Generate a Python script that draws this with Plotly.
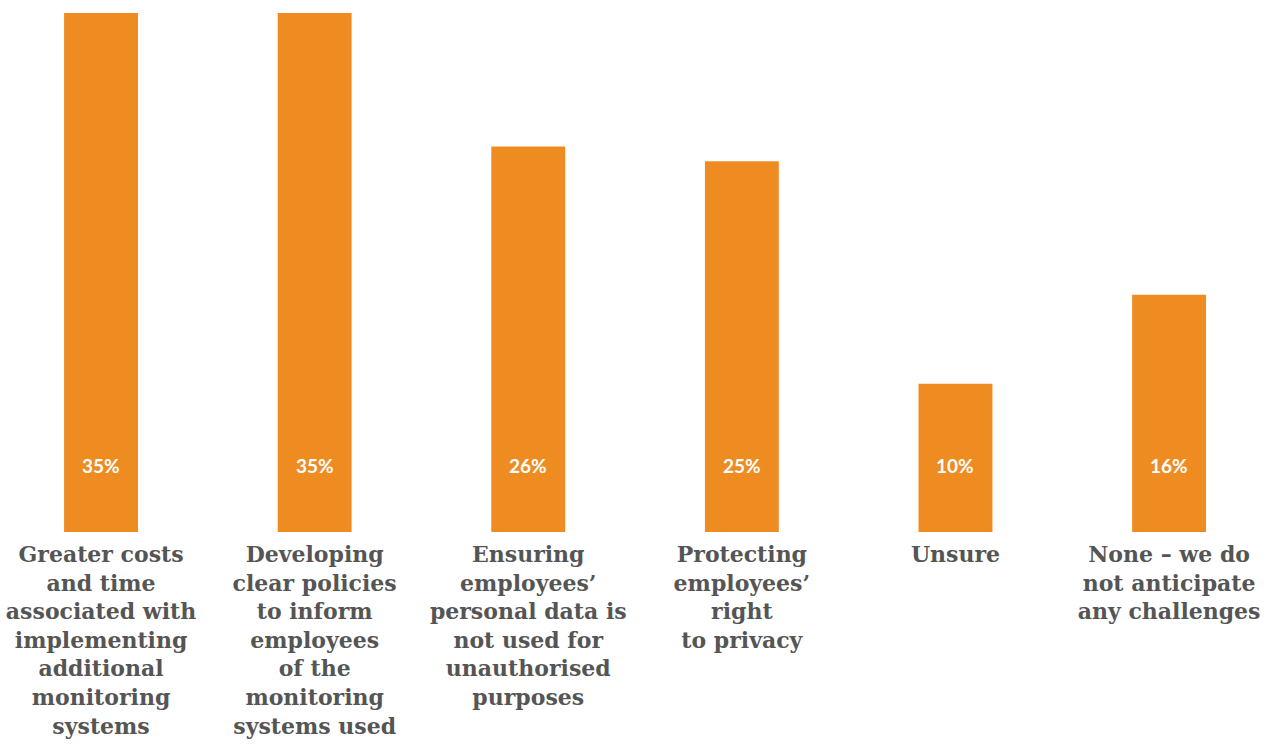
import plotly.graph_objects as go

categories = [
    "Greater costs<br>and time<br>associated with<br>implementing<br>additional<br>monitoring<br>systems",
    "Developing<br>clear policies<br>to inform<br>employees<br>of the<br>monitoring<br>systems used",
    "Ensuring<br>employees’<br>personal data is<br>not used for<br>unauthorised<br>purposes",
    "Protecting<br>employees’<br>right<br>to privacy",
    "Unsure",
    "None – we do<br>not anticipate<br>any challenges",
]
values = [35, 35, 26, 25, 10, 16]
value_labels = ["35%", "35%", "26%", "25%", "10%", "16%"]

ORANGE = "#EE8C22"
GREY = "#555555"

fig = go.Figure(
    go.Bar(
        x=list(range(len(categories))),
        y=values,
        marker=dict(color=ORANGE, line=dict(width=0)),
        width=0.346,
        hoverinfo="skip",
    )
)

# value labels sit at a fixed height near the base of each bar
for i, lab in enumerate(value_labels):
    fig.add_annotation(
        x=i, y=4.5, text=lab, showarrow=False, yanchor="middle",
        font=dict(family="Lato", size=19, color="white", weight="bold"),
    )

fig.update_layout(
    width=1268, height=745,
    margin=dict(l=0, r=0, t=13, b=213),
    paper_bgcolor="white", plot_bgcolor="white",
    showlegend=False,
    xaxis=dict(
        range=[-0.473, 5.463],
        tickmode="array",
        tickvals=list(range(len(categories))),
        ticktext=categories,
        tickfont=dict(family="DejaVu Serif", size=22, color=GREY, weight="bold"),
        showgrid=False, zeroline=False, showline=False, ticks="",
        ticklabelstandoff=7,
    ),
    yaxis=dict(range=[0, 35], visible=False, showgrid=False, zeroline=False),
)

fig.write_html("out.html")
